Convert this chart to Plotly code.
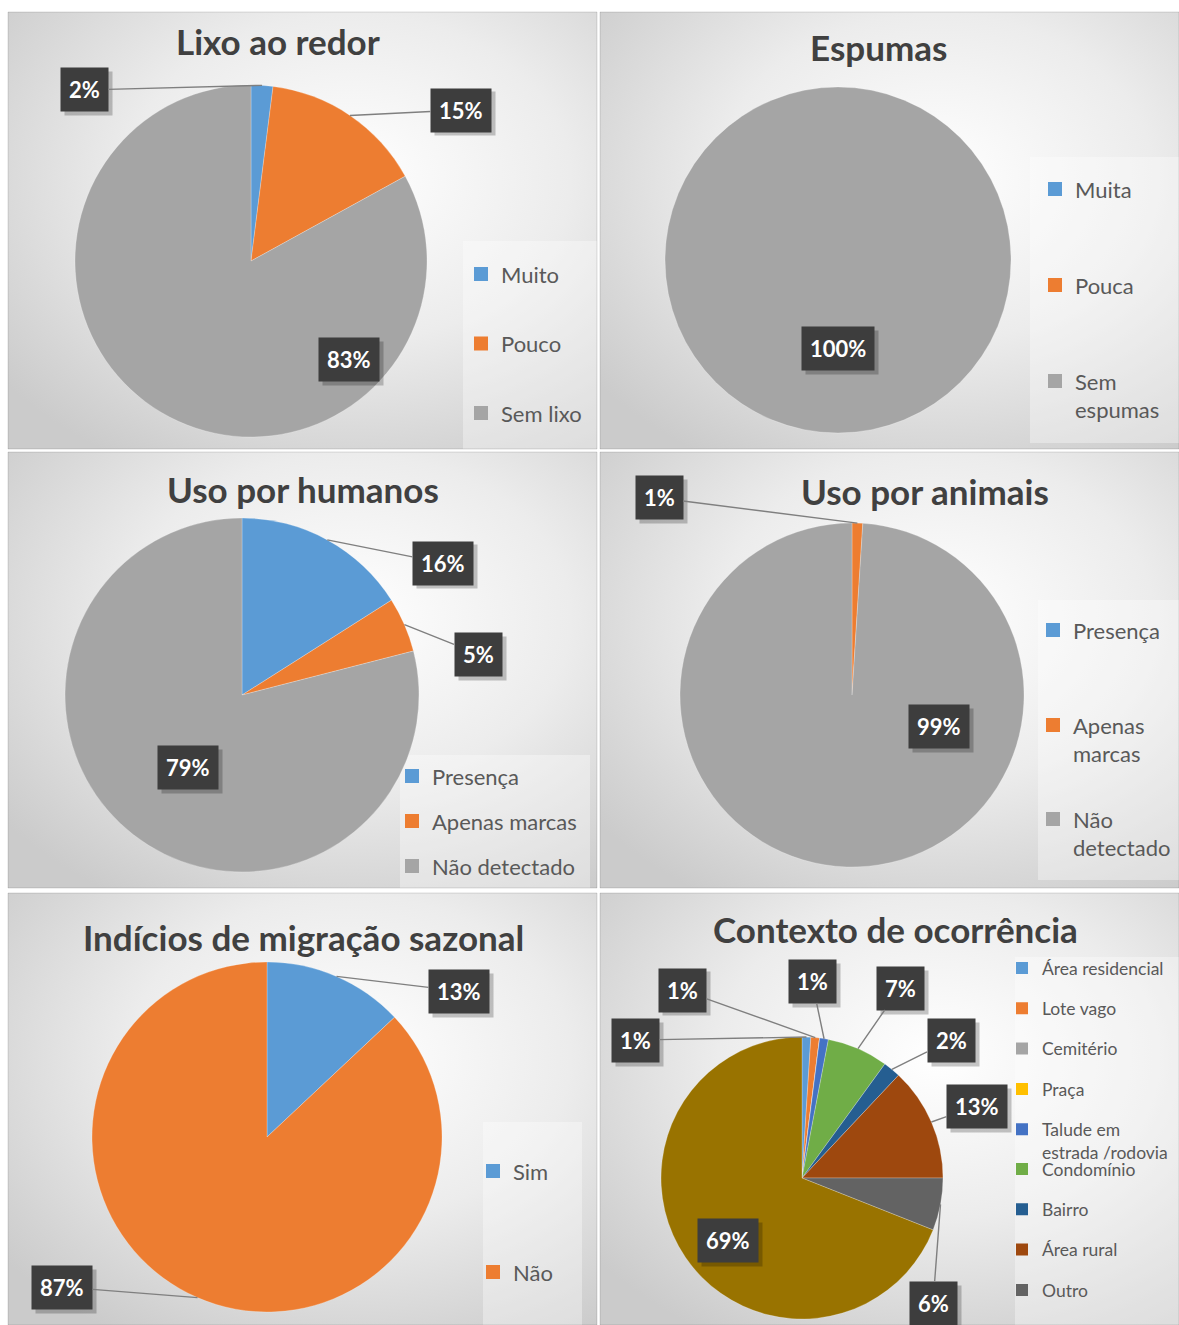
import base64
import math
import plotly.graph_objects as go

W, H = 1179, 1325

# ---- data (percentages) ----
lixo_labels = ["Muito", "Pouco", "Sem lixo"]
lixo_values = [2, 15, 83]

espumas_labels = ["Muita", "Pouca", "Sem espumas"]
espumas_values = [0, 0, 100]

humanos_labels = ["Presença", "Apenas marcas", "Não detectado"]
humanos_values = [16, 5, 79]

animais_labels = ["Presença", "Apenas marcas", "Não detectado"]
animais_values = [0, 1, 99]

migracao_labels = ["Sim", "Não"]
migracao_values = [13, 87]

contexto_labels = ["Área residencial", "Lote vago", "Cemitério", "Praça",
                   "Talude em estrada /rodovia", "Condomínio", "Bairro",
                   "Área rural", "Outro", "Não listado"]
contexto_values = [1, 1, 0, 0, 1, 7, 2, 13, 6, 69]

office = ["#5B9BD5", "#ED7D31", "#A5A5A5", "#FFC000", "#4472C4",
          "#70AD47", "#255E91", "#9E480E", "#636363", "#997300"]

FONT = "Lato"
TXT = "#404040"

# ---- panel layout (page pixel positions) ----
panels = [
    dict(title="Lixo ao redor", labels=lixo_labels, values=lixo_values,
         box=(8, 12, 597, 449), title_xy=(278, 41), center=(251, 261), r=176,
         leg_box=(463, 241, 597, 449), leg_x=501, leg_font=22,
         leg_names=["Muito", "Pouco", "Sem lixo"],
         leg_groups=[([0, 1, 2], 275, 69.5)],
         lab_xy=[(84, 90), (461, 110), (349, 359)], inside=[0, 0, 1]),
    dict(title="Espumas", labels=espumas_labels, values=espumas_values,
         box=(600, 12, 1179, 449), title_xy=(879, 47), center=(838, 260), r=173,
         leg_box=(1030, 157, 1179, 443), leg_x=1075, leg_font=22,
         leg_names=["Muita", "Pouca", "Sem<br>espumas"],
         leg_groups=[([0, 1, 2], 190, 96)],
         lab_xy=[None, None, (838, 348)], inside=[0, 0, 1]),
    dict(title="Uso por humanos", labels=humanos_labels, values=humanos_values,
         box=(8, 452, 597, 888), title_xy=(303, 489), center=(242, 695), r=177,
         leg_box=(400, 755, 590, 888), leg_x=432, leg_font=22,
         leg_names=["Presença", "Apenas marcas", "Não detectado"],
         leg_groups=[([0, 1, 2], 777, 45)],
         lab_xy=[(443, 563), (478, 654), (188, 767)], inside=[0, 0, 1]),
    dict(title="Uso por animais", labels=animais_labels, values=animais_values,
         box=(600, 452, 1179, 888), title_xy=(925, 491), center=(852, 695), r=172,
         leg_box=(1038, 600, 1179, 880), leg_x=1073, leg_font=22,
         leg_names=["Presença", "Apenas<br>marcas", "Não<br>detectado"],
         leg_groups=[([0, 1], 631, 95), ([2], 820, 95)],
         lab_xy=[None, (659, 498), (939, 727)], inside=[0, 0, 1]),
    dict(title="Indícios de migração sazonal", labels=migracao_labels,
         values=migracao_values,
         box=(8, 893, 597, 1325), title_xy=(303, 937), center=(267, 1137), r=175,
         leg_box=(483, 1122, 582, 1325), leg_x=513, leg_font=22,
         leg_names=["Sim", "Não"],
         leg_groups=[([0, 1], 1172, 101)],
         lab_xy=[(459, 991), (62, 1287)], inside=[0, 0]),
    dict(title="Contexto de ocorrência", labels=contexto_labels,
         values=contexto_values,
         box=(600, 893, 1179, 1325), title_xy=(895, 929), center=(802, 1178), r=141,
         leg_box=(1015, 957, 1179, 1325), leg_x=1042, leg_font=17.5,
         leg_names=["Área residencial", "Lote vago", "Cemitério", "Praça",
                    "Talude em<br>estrada /rodovia", "Condomínio", "Bairro",
                    "Área rural", "Outro"],
         leg_groups=[([0, 1, 2, 3, 4], 969, 40.3), ([5, 6, 7, 8], 1170, 40.3)],
         lab_xy=[(635, 1040), (682, 990), None, None, (812, 981), (900, 988),
                 (951, 1040), (977, 1106), (933, 1303), (728, 1240)],
         inside=[0, 0, 0, 0, 0, 0, 0, 0, 0, 1]),
]


def px(x):
    return x / W


def py(y):
    return 1 - y / H


svg = ("<svg xmlns='http://www.w3.org/2000/svg' viewBox='0 0 100 100' "
       "preserveAspectRatio='none' width='100' height='100'><defs>"
       "<radialGradient id='g' cx='58%' cy='38%' r='75%'>"
       "<stop offset='0' stop-color='#ffffff'/>"
       "<stop offset='0.5' stop-color='#ececec'/>"
       "<stop offset='1' stop-color='#cbcbcb'/></radialGradient></defs>"
       "<rect width='100' height='100' fill='url(#g)'/></svg>")
bg_uri = "data:image/svg+xml;base64," + base64.b64encode(svg.encode()).decode()

fig = go.Figure()
images, shapes, annotations = [], [], []
legends = {}
leg_n = 0

for p in panels:
    x0, y0, x1, y1 = p["box"]
    images.append(dict(source=bg_uri, xref="paper", yref="paper",
                       x=px(x0), y=py(y0), sizex=(x1 - x0) / W, sizey=(y1 - y0) / H,
                       xanchor="left", yanchor="top", sizing="stretch",
                       layer="below"))
    shapes.append(dict(type="rect", xref="paper", yref="paper",
                       x0=px(x0), x1=px(x1), y0=py(y1), y1=py(y0),
                       line=dict(color="rgba(0,0,0,0.13)", width=1)))
    lx0, ly0, lx1, ly1 = p["leg_box"]
    shapes.append(dict(type="rect", xref="paper", yref="paper", layer="below",
                       x0=px(lx0), x1=px(lx1), y0=py(ly1), y1=py(ly0),
                       fillcolor="rgba(255,255,255,0.35)", line=dict(width=0)))

    cx, cy = p["center"]
    r = p["r"]
    n = len(p["values"])
    fig.add_trace(go.Pie(
        labels=p["labels"], values=p["values"], sort=False,
        direction="clockwise", rotation=0, textinfo="none",
        marker=dict(colors=office[:n], line=dict(color="rgba(255,255,255,0.4)", width=0.6)),
        domain=dict(x=[px(cx - r), px(cx + r)], y=[py(cy + r), py(cy - r)]),
        showlegend=False, hoverinfo="label+percent"))

    # title
    annotations.append(dict(text=p["title"], xref="paper", yref="paper",
                            x=px(p["title_xy"][0]), y=py(p["title_xy"][1]),
                            xanchor="center", yanchor="middle", showarrow=False,
                            font=dict(family=FONT, size=35, color=TXT, weight="bold")))

    # data labels
    total = sum(p["values"])
    cum = 0
    for i, v in enumerate(p["values"]):
        mid = (cum + v / 2) / total * 2 * math.pi
        cum += v
        pos = p["lab_xy"][i]
        if v == 0 or pos is None:
            continue
        txt = f"{round(v / total * 100)}%"
        bx, by = pos
        lab_font = dict(family=FONT, size=22, color="white", weight="bold")
        # soft drop shadow behind the label box
        annotations.append(dict(text=txt, xref="paper", yref="paper",
                                x=px(bx), y=py(by), xanchor="center", yanchor="middle",
                                showarrow=False, xshift=4, yshift=-4, borderpad=8,
                                bgcolor="rgba(0,0,0,0.22)",
                                font=dict(family=FONT, size=22, color="rgba(0,0,0,0)",
                                          weight="bold")))
        if p["inside"][i]:
            annotations.append(dict(text=txt, xref="paper", yref="paper",
                                    x=px(bx), y=py(by), xanchor="center",
                                    yanchor="middle", showarrow=False, borderpad=8,
                                    bgcolor="#3d3d3d", font=lab_font))
        else:
            tx = cx + r * math.sin(mid)
            ty = cy - r * math.cos(mid)
            annotations.append(dict(text=txt, xref="paper", yref="paper",
                                    x=px(tx), y=py(ty), ax=bx - tx, ay=by - ty,
                                    showarrow=True, arrowhead=0, arrowwidth=1.4,
                                    arrowcolor="#7f7f7f", borderpad=8,
                                    bgcolor="#3d3d3d", font=lab_font))

    # legends built from square markers, one group per entry
    fs = p["leg_font"]
    item_h = fs * 1.3 + 3
    for idxs, first_y, step in p["leg_groups"]:
        leg_n += 1
        lid = "legend" if leg_n == 1 else f"legend{leg_n}"
        legends[lid] = dict(
            x=px(p["leg_x"] - 40), xanchor="left",
            y=py(first_y - item_h / 2 - 6), yanchor="top",
            bgcolor="rgba(0,0,0,0)", borderwidth=0, valign="top",
            tracegroupgap=max(step - item_h, 0),
            font=dict(family=FONT, size=fs, color="#595959"))
        for i in idxs:
            fig.add_trace(go.Scatter(
                x=[None], y=[None], mode="markers", name=p["leg_names"][i],
                marker=dict(symbol="square", size=14 if fs > 18 else 12,
                            color=office[i]),
                legend=lid, legendgroup=f"{lid}_{i}", showlegend=True,
                hoverinfo="skip"))

fig.update_layout(
    width=W, height=H, autosize=False,
    margin=dict(l=0, r=0, t=0, b=0),
    paper_bgcolor="white", plot_bgcolor="rgba(0,0,0,0)",
    xaxis=dict(visible=False), yaxis=dict(visible=False),
    images=images, shapes=shapes, annotations=annotations,
    font=dict(family=FONT, color=TXT),
    **legends)

# drop the default body margin so the figure fills the window exactly
fig.write_html("out.html", config={"displayModeBar": False},
               post_script="document.body.style.margin='0';"
                           "document.body.style.overflow='hidden';")
